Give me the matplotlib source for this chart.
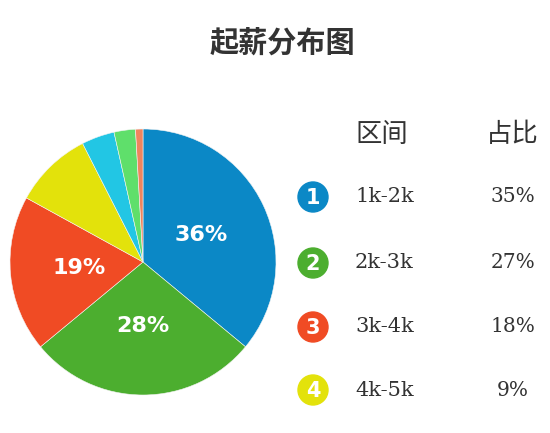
import matplotlib.pyplot as plt
from matplotlib.patches import Circle

plt.rcParams['font.family'] = ['Noto Sans CJK SC', 'DejaVu Sans']

# 饼图数据
shares = [36, 28, 19, 9.5, 4, 2.6, 0.9]
colors = ['#0b88c6', '#4cae2f', '#f04b24', '#e3e20b', '#22c6e4', '#5fdf6b', '#f0845e']

# 右侧表格
ranges = ['1k-2k', '2k-3k', '3k-4k', '4k-5k']
ratios = ['35%', '27%', '18%', '9%']
title = '起薪分布图'

W, H = 550, 433
fig = plt.figure(figsize=(W / 100, H / 100), dpi=100)
fig.patch.set_facecolor('white')

# 饼图
cx, cy, r = 143, 262, 133
ax = fig.add_axes([(cx - r) / W, (H - cy - r) / H, 2 * r / W, 2 * r / H])
ax.pie(shares, colors=colors, startangle=90, counterclock=False,
       autopct=lambda p: f'{p:.0f}%' if p > 15 else '', pctdistance=0.48,
       wedgeprops=dict(linewidth=0.4, edgecolor='#f4f4f4'),
       textprops=dict(color='white', fontsize=16, fontweight='bold', family='DejaVu Sans'))
ax.set_xlim(-1, 1)
ax.set_ylim(-1, 1)
ax.set_aspect('equal')

# 覆盖层：像素坐标
ov = fig.add_axes([0, 0, 1, 1])
ov.set_xlim(0, W)
ov.set_ylim(H, 0)
ov.axis('off')

ov.text(282, 43, title, ha='center', va='center', fontsize=21, fontweight='bold', color='#333333')

ov.text(382, 134, '区间', ha='center', va='center', fontsize=19, color='#333333')
ov.text(512, 134, '占比', ha='center', va='center', fontsize=19, color='#333333')

row_y = [197, 263, 327, 390]
for i, (rg, rt, y) in enumerate(zip(ranges, ratios, row_y)):
    ov.add_patch(Circle((313, y), 15, color=colors[i]))
    ov.text(313, y + 1, str(i + 1), ha='center', va='center', fontsize=15,
            fontweight='bold', color='white', family='DejaVu Sans')
    ov.text(355, y, rg, ha='left', va='center', fontsize=15, color='#333333', family='DejaVu Serif')
    ov.text(513, y, rt, ha='center', va='center', fontsize=14.5, color='#333333', family='DejaVu Serif')

fig.savefig('out.png', dpi=100)
